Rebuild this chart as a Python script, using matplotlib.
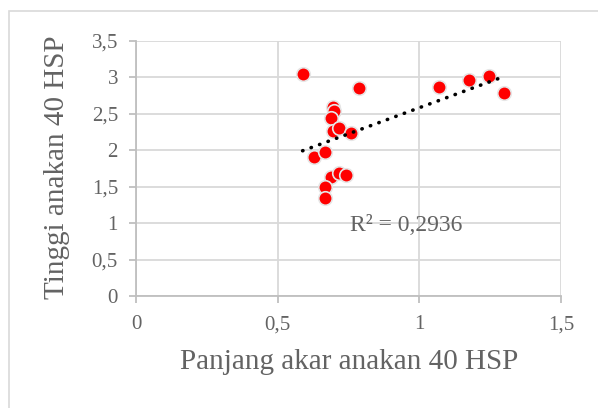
import numpy as np
import matplotlib
matplotlib.use("Agg")
import matplotlib.pyplot as plt
from matplotlib.patches import Rectangle

# panjang akar (x) vs tinggi anakan (y), 40 HSP
panjang_akar = [0.588, 0.787, 1.068, 1.177, 1.247, 1.300, 0.697, 0.699, 0.688,
                0.697, 0.717, 0.758, 0.627, 0.668, 0.688, 0.718, 0.740, 0.668, 0.668]
tinggi_anakan = [3.05, 2.86, 2.87, 2.96, 3.02, 2.79, 2.60, 2.54, 2.45,
                 2.26, 2.30, 2.24, 1.91, 1.97, 1.63, 1.69, 1.66, 1.50, 1.35]
x_ticks = [0, 0.5, 1, 1.5]
x_ticklabels = ["0", "0,5", "1", "1,5"]
y_ticks = [0, 0.5, 1, 1.5, 2, 2.5, 3, 3.5]
y_ticklabels = ["0", "0,5", "1", "1,5", "2", "2,5", "3", "3,5"]
r2_label = "R² = 0,2936"

plt.rcParams['font.family'] = ['Liberation Serif', 'DejaVu Serif']
text_col = '#636363'
grid_col = '#d9d9d9'
axis_col = '#bfbfbf'

W, H = 598, 408
fig = plt.figure(figsize=(W / 100, H / 100), dpi=100)

# outer chart frame (cut off at right and bottom)
fig.patches.append(Rectangle((9 / W, -0.1), 1.2, 1 - 11 / H + 0.1,
                             transform=fig.transFigure, fill=False,
                             edgecolor=grid_col, lw=1.2))

ax = fig.add_axes([136 / W, 1 - 296 / H, (561 - 136) / W, (296 - 41) / H])
ax.set_xlim(0, 1.5)
ax.set_ylim(0, 3.5)
ax.set_xticks(x_ticks)
ax.set_xticklabels(x_ticklabels)
ax.set_yticks(y_ticks)
ax.set_yticklabels(y_ticklabels)
ax.grid(True, color=grid_col, lw=1.3)
ax.set_axisbelow(True)
for s in ['top', 'right']:
    ax.spines[s].set_visible(False)
for s in ['left', 'bottom']:
    ax.spines[s].set_color(axis_col)
    ax.spines[s].set_linewidth(1.3)
ax.tick_params(axis='both', colors=axis_col, labelcolor=text_col,
               labelsize=15, length=5, width=1.3)
ax.tick_params(axis='y', pad=8)
ax.tick_params(axis='x', pad=9)

ax.scatter(panjang_akar, tinggi_anakan, s=95, color='#ff0000',
           edgecolors='#e6e6e6', linewidths=1.2, zorder=3)

# linear trendline
xa = np.array(panjang_akar)
ya = np.array(tinggi_anakan)
b, a = np.polyfit(xa, ya, 1)
xl = np.array([xa.min(), xa.max()])
ax.plot(xl, a + b * xl, color='black', lw=2.6,
        linestyle=(0, (0.1, 2.4)), dash_capstyle='round', zorder=4)

ax.text(0.955, 0.97, r2_label, fontsize=17, color=text_col,
        ha='center', va='center', zorder=5)

fig.text(57 / W, 1 - 167 / H, "Tinggi anakan 40 HSP", rotation=90,
         fontsize=21, color=text_col, ha='center', va='center')
fig.text(349 / W, 1 - 362 / H, "Panjang akar anakan 40 HSP",
         fontsize=21, color=text_col, ha='center', va='center')

fig.savefig("out.png", dpi=100)
